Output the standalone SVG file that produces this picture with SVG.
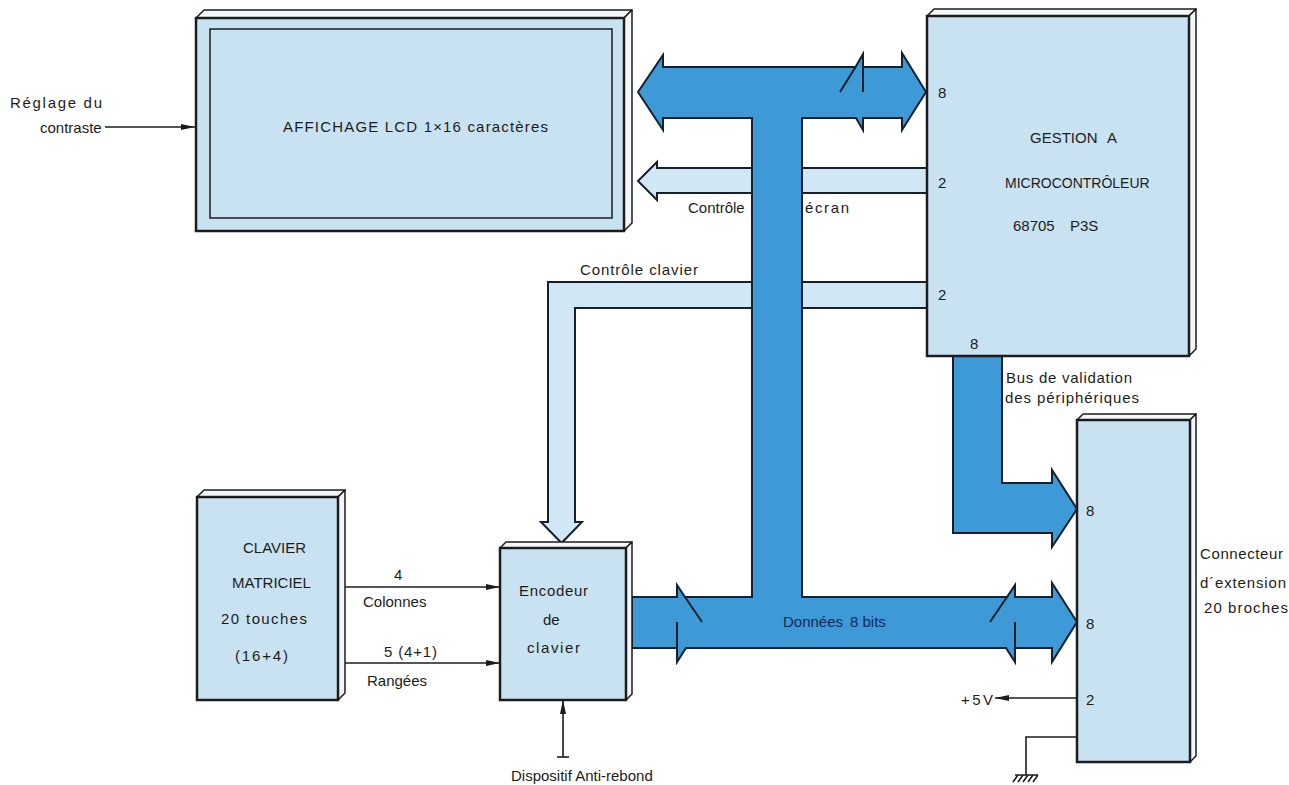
<svg xmlns="http://www.w3.org/2000/svg" width="1289" height="785" viewBox="0 0 1289 785">
<style>
text{font-family:"Liberation Sans",Arial,sans-serif;font-size:15px;fill:#1c1c1c}
.face{fill:#c9e2f2;stroke:#1c1c1c;stroke-width:2.5}
.side{fill:#f4f7f9;stroke:#1c1c1c;stroke-width:1.5;stroke-linejoin:round}
.inner{fill:none;stroke:#1c1c1c;stroke-width:1.5}
.bus{fill:#3d9ad6;stroke:#15202e;stroke-width:2;stroke-linejoin:miter}
.lbus{fill:#d2e7f5;stroke:#15202e;stroke-width:2}
.ln{fill:none;stroke:#15202e;stroke-width:2}
.wire{fill:none;stroke:#1c1c1c;stroke-width:1.6}
</style>
<defs>
<marker id="ah" viewBox="0 0 14 6" refX="14" refY="3" markerWidth="14" markerHeight="6" markerUnits="userSpaceOnUse" orient="auto">
<path d="M0,0 L14,3 L0,6 Z" fill="#1c1c1c"/>
</marker>
</defs>

<g id="connectors">
<path class="lbus" d="M927,282 L548,282 L548,522 L541,522 L561.5,543 L582,522 L575,522 L575,308 L927,308"/>
<path class="lbus" d="M927,168 L657,168 L657,162 L638,181 L657,200 L657,193 L927,193"/>
<path class="bus" d="M638,92 L663,55 L663,67 L855.5,67 L863,54 L863,67 L902,67 L902,53 L926,92 L902,130 L902,118 L863,118 L863,130 L856,118 L802,118 L802,597 L1007,597 L1015,585 L1015,597 L1052,597 L1052,583 L1077,622 L1052,662 L1052,648 L1015,648 L1015,662 L1006,648 L686,648 L677,662 L677,648 L632,648 L632,597 L677,597 L677,585 L685,597 L752,597 L752,118 L663,118 L663,130 Z"/>
<path class="ln" d="M855.5,67 L840,92 M863,67 L863,92 M1007,597 L990,622 M1015,622 L1015,648 M685,597 L702,622 M677,622 L677,648"/>
<path class="bus" d="M953,356 L1002,356 L1002,483 L1052,483 L1052,470 L1077,509 L1052,547 L1052,533 L953,533 Z"/>
<line class="wire" x1="105" y1="127" x2="195" y2="127" marker-end="url(#ah)"/>
<line class="wire" x1="340" y1="587" x2="500" y2="587" marker-end="url(#ah)"/>
<line class="wire" x1="340" y1="663" x2="500" y2="663" marker-end="url(#ah)"/>
<line class="wire" x1="563" y1="757" x2="563" y2="700" marker-end="url(#ah)"/>
<line class="wire" x1="557" y1="757" x2="569" y2="757"/>
<line class="wire" x1="1077" y1="698" x2="995" y2="698" marker-end="url(#ah)"/>
<path class="wire" d="M1077,737 L1026,737 L1026,775"/>
<path class="wire" d="M1015,775 L1038,775 M1018,775 L1013,782 M1023,775 L1018,782 M1028,775 L1023,782 M1033,775 L1028,782 M1038,775 L1033,782"/>
</g>

<g id="lcd">
<polygon class="side" points="196,18 204,10 632,10 624,18"/>
<polygon class="side" points="624,18 632,10 632,223 624,231"/>
<rect class="face" x="196" y="18" width="428" height="213"/>
<rect class="inner" x="210" y="29" width="402" height="189"/>
<text x="283" y="132" textLength="265">AFFICHAGE LCD 1×16 caractères</text>
</g>

<g id="reglage">
<text x="10" y="108" textLength="92">Réglage du</text>
<text x="40" y="133">contraste</text>
</g>

<g id="micro">
<polygon class="side" points="927,16 934,9 1196,9 1189,16"/>
<polygon class="side" points="1189,16 1196,9 1196,349 1189,356"/>
<rect class="face" x="927" y="16" width="262" height="340"/>
<text x="1030" y="143">GESTION</text>
<text x="1107" y="143">A</text>
<text x="1005" y="188" style="font-size:14px">MICROCONTRÔLEUR</text>
<text x="1013" y="231">68705</text>
<text x="1070" y="231">P3S</text>
<text x="938" y="98">8</text>
<text x="938" y="188">2</text>
<text x="938" y="300">2</text>
<text x="970" y="349">8</text>
</g>

<g id="clavier">
<polygon class="side" points="197,497 204,490 345,490 338,497"/>
<polygon class="side" points="338,497 345,490 345,693 338,700"/>
<rect class="face" x="197" y="497" width="141" height="203"/>
<text x="243" y="553">CLAVIER</text>
<text x="232" y="588">MATRICIEL</text>
<text x="221" y="624" textLength="86">20 touches</text>
<text x="235" y="661" textLength="53">(16+4)</text>
</g>

<g id="encodeur">
<polygon class="side" points="500,548 506,542 632,542 626,548"/>
<polygon class="side" points="626,548 632,542 632,694 626,700"/>
<rect class="face" x="500" y="548" width="126" height="152"/>
<text x="519" y="596" textLength="69">Encodeur</text>
<text x="543" y="625">de</text>
<text x="527" y="653" textLength="53">clavier</text>
</g>

<g id="connecteur">
<polygon class="side" points="1077,420 1083,414 1196,414 1190,420"/>
<polygon class="side" points="1190,420 1196,414 1196,756 1190,762"/>
<rect class="face" x="1077" y="420" width="113" height="342"/>
<text x="1086" y="516">8</text>
<text x="1086" y="629">8</text>
<text x="1086" y="705">2</text>
</g>

<g id="labels">
<text x="688" y="213">Contrôle</text>
<text x="805" y="213" textLength="44">écran</text>
<text x="580" y="275" textLength="118">Contrôle clavier</text>
<text x="1006" y="383" textLength="126">Bus de validation</text>
<text x="1005" y="403" textLength="134">des périphériques</text>
<text x="1200" y="559" textLength="83">Connecteur</text>
<text x="1200" y="588" textLength="86">d´extension</text>
<text x="1204" y="613" textLength="84">20 broches</text>
<text x="961" y="705" textLength="32">+5V</text>
<text x="394" y="580">4</text>
<text x="363" y="607">Colonnes</text>
<text x="384" y="657" textLength="53">5 (4+1)</text>
<text x="367" y="686">Rangées</text>
<text x="783" y="627" style="fill:#16285a">Données</text>
<text x="850" y="627" style="fill:#16285a">8 bits</text>
<text x="511" y="781">Dispositif  Anti-rebond</text>
</g>
</svg>
